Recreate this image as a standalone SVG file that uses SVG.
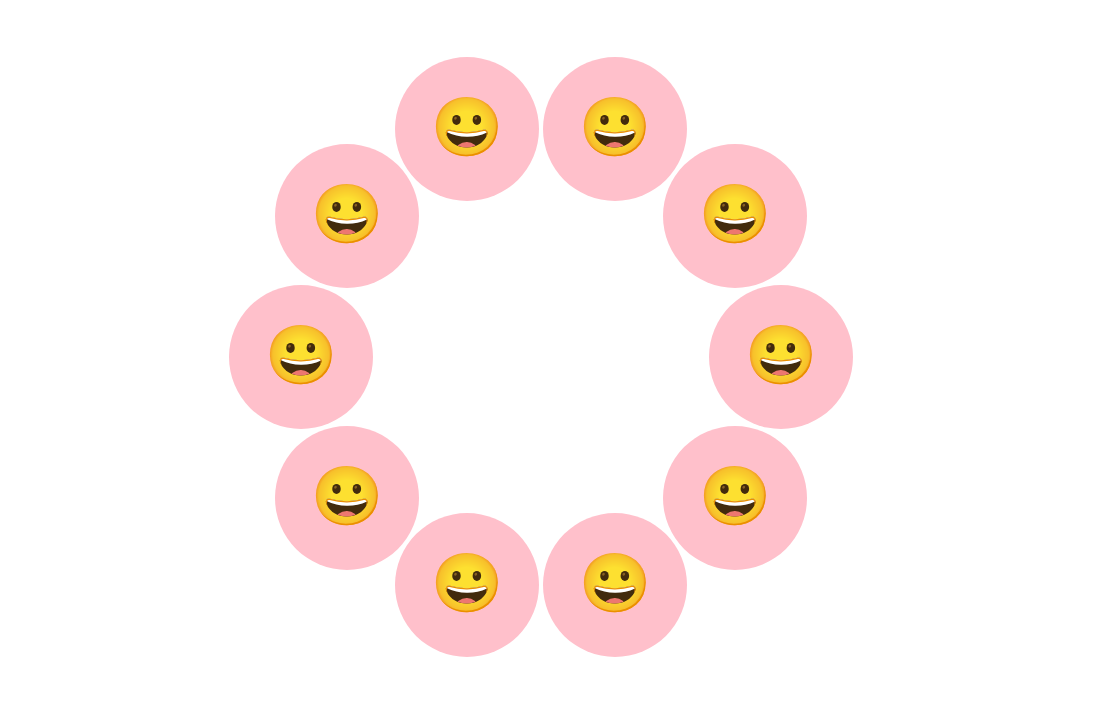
<svg xmlns="http://www.w3.org/2000/svg" width="1104" height="704" viewBox="0 0 1104 704">
<style>
.disc{fill:#ffc0cb}
.emoji{font-family:"Noto Color Emoji","Apple Color Emoji",sans-serif;font-size:58px;text-anchor:middle}
</style>
<rect width="1104" height="704" fill="#fff"/>
<g id="node-1"><circle class="disc" cx="467" cy="129" r="72"/><text class="emoji" x="467" y="147">😀</text></g>
<g id="node-2"><circle class="disc" cx="615" cy="129" r="72"/><text class="emoji" x="615" y="147">😀</text></g>
<g id="node-3"><circle class="disc" cx="735" cy="216" r="72"/><text class="emoji" x="735" y="234">😀</text></g>
<g id="node-4"><circle class="disc" cx="781" cy="357" r="72"/><text class="emoji" x="781" y="375">😀</text></g>
<g id="node-5"><circle class="disc" cx="735" cy="498" r="72"/><text class="emoji" x="735" y="516">😀</text></g>
<g id="node-6"><circle class="disc" cx="615" cy="585" r="72"/><text class="emoji" x="615" y="603">😀</text></g>
<g id="node-7"><circle class="disc" cx="467" cy="585" r="72"/><text class="emoji" x="467" y="603">😀</text></g>
<g id="node-8"><circle class="disc" cx="347" cy="498" r="72"/><text class="emoji" x="347" y="516">😀</text></g>
<g id="node-9"><circle class="disc" cx="301" cy="357" r="72"/><text class="emoji" x="301" y="375">😀</text></g>
<g id="node-10"><circle class="disc" cx="347" cy="216" r="72"/><text class="emoji" x="347" y="234">😀</text></g>
</svg>
